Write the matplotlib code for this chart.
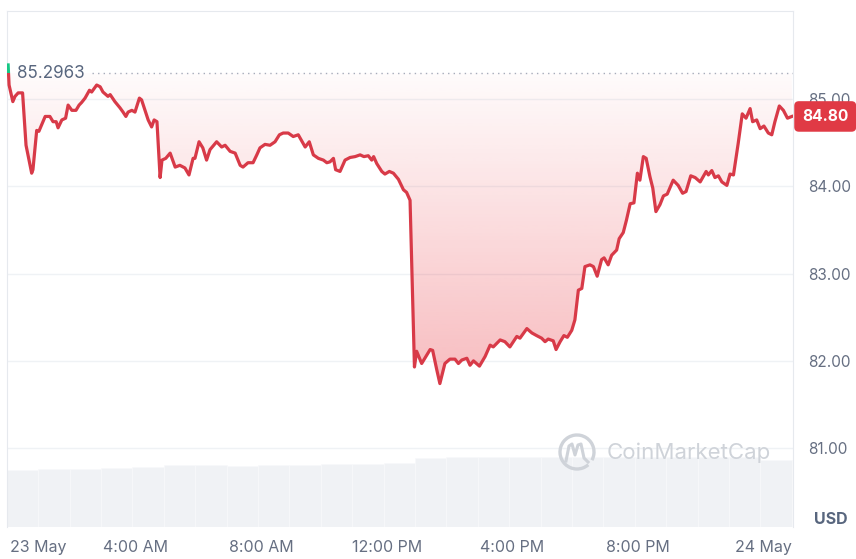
import numpy as np
import matplotlib
matplotlib.use("Agg")
import matplotlib.pyplot as plt
from matplotlib.patches import Rectangle, Arc
from matplotlib.lines import Line2D

plt.rcParams['font.family'] = ['Inter', 'DejaVu Sans']

# price trace, hours since 23 May 00:00
hours = [-0.06, -0.03, 0.09, 0.16, 0.26, 0.40, 0.51, 0.69, 0.73, 0.85,
         0.92, 1.12, 1.27, 1.37, 1.47, 1.53, 1.65, 1.77, 1.85, 1.97,
         2.10, 2.20, 2.28, 2.39, 2.53, 2.60, 2.76, 2.87, 2.96, 3.12,
         3.19, 3.34, 3.50, 3.60, 3.69, 3.76, 3.88, 3.98, 4.12, 4.19,
         4.30, 4.40, 4.51, 4.59, 4.68, 4.78, 4.84, 4.96, 5.10, 5.26,
         5.41, 5.57, 5.70, 5.83, 5.89, 6.02, 6.14, 6.26, 6.37, 6.58,
         6.74, 6.85, 7.01, 7.17, 7.33, 7.42, 7.58, 7.74, 7.86, 7.96,
         8.12, 8.28, 8.44, 8.58, 8.70, 8.86, 9.02, 9.18, 9.40, 9.53,
         9.66, 9.82, 9.98, 10.09, 10.19, 10.30, 10.37, 10.51, 10.67, 10.83,
         10.99, 11.15, 11.27, 11.41, 11.52, 11.58, 11.68, 11.84, 11.94, 12.08,
         12.21, 12.37, 12.53, 12.63, 12.74, 12.88, 12.95, 13.11, 13.38, 13.46,
         13.59, 13.69, 13.85, 14.01, 14.17, 14.28, 14.39, 14.55, 14.65, 14.76,
         14.95, 15.13, 15.29, 15.39, 15.61, 15.76, 15.92, 16.14, 16.24, 16.46,
         16.62, 16.77, 16.93, 17.04, 17.14, 17.30, 17.39, 17.52, 17.64, 17.75,
         17.89, 17.99, 18.10, 18.21, 18.31, 18.47, 18.58, 18.70, 18.84, 18.92,
         19.05, 19.16, 19.32, 19.40, 19.53, 19.63, 19.75, 19.87, 19.98, 20.06,
         20.17, 20.26, 20.38, 20.47, 20.57, 20.70, 20.81, 20.93, 21.12, 21.28,
         21.42, 21.53, 21.68, 21.82, 21.98, 22.17, 22.24, 22.35, 22.45, 22.56,
         22.67, 22.83, 22.93, 23.04, 23.19, 23.32, 23.44, 23.57, 23.65, 23.78,
         23.89, 24.01, 24.15, 24.26, 24.36, 24.50, 24.63, 24.76, 24.90]
price = [85.39, 85.16, 84.97, 85.03, 85.07, 85.07, 84.47, 84.15, 84.19, 84.64,
         84.63, 84.80, 84.80, 84.74, 84.74, 84.67, 84.76, 84.78, 84.93, 84.87,
         84.87, 84.93, 84.96, 85.01, 85.10, 85.08, 85.16, 85.14, 85.08, 85.03,
         85.05, 84.97, 84.90, 84.85, 84.80, 84.85, 84.87, 84.85, 85.01, 84.99,
         84.87, 84.76, 84.68, 84.76, 84.74, 84.10, 84.30, 84.32, 84.38, 84.22,
         84.24, 84.21, 84.13, 84.32, 84.32, 84.51, 84.44, 84.30, 84.42, 84.51,
         84.45, 84.47, 84.40, 84.38, 84.24, 84.22, 84.27, 84.27, 84.36, 84.44,
         84.48, 84.47, 84.51, 84.59, 84.61, 84.61, 84.57, 84.59, 84.45, 84.51,
         84.36, 84.32, 84.30, 84.27, 84.28, 84.32, 84.19, 84.17, 84.30, 84.33,
         84.34, 84.36, 84.34, 84.35, 84.30, 84.34, 84.26, 84.17, 84.14, 84.17,
         84.15, 84.08, 83.96, 83.93, 83.84, 81.93, 82.11, 81.97, 82.13, 82.12,
         81.90, 81.74, 81.97, 82.02, 82.02, 81.97, 82.01, 82.03, 81.95, 82.00,
         81.94, 82.05, 82.18, 82.16, 82.24, 82.22, 82.16, 82.28, 82.26, 82.37,
         82.32, 82.29, 82.26, 82.22, 82.25, 82.23, 82.13, 82.22, 82.29, 82.27,
         82.35, 82.47, 82.81, 82.83, 83.08, 83.10, 83.08, 82.97, 83.16, 83.18,
         83.10, 83.21, 83.27, 83.40, 83.47, 83.61, 83.80, 83.81, 84.15, 84.07,
         84.34, 84.32, 84.11, 83.98, 83.71, 83.79, 83.89, 83.91, 84.07, 84.01,
         83.92, 83.94, 84.12, 84.10, 84.05, 84.17, 84.13, 84.18, 84.10, 84.12,
         84.05, 84.01, 84.14, 84.13, 84.49, 84.83, 84.78, 84.89, 84.74, 84.76,
         84.66, 84.69, 84.61, 84.59, 84.74, 84.92, 84.87, 84.78, 84.80]
baseline = 85.2963
last_price = 84.80

# hourly volume bars (relative units)
vol_hours = list(range(25))
volume = [57, 58, 58, 59, 60, 62, 62, 61, 62, 62, 63, 63, 64,
          69, 70, 70, 70, 70, 70, 70, 70, 70, 70, 70, 67]

tick_hours = [0, 4, 8, 12, 16, 20, 24]
tick_labels = ['23 May', '4:00 AM', '8:00 AM', '12:00 PM', '4:00 PM', '8:00 PM', '24 May']
price_ticks = [81, 82, 83, 84, 85]

red = '#d83a48'
green = '#16c784'
grey = '#666f82'

fig = plt.figure(figsize=(8.56, 5.59), dpi=100)
ax = fig.add_axes([7 / 856, 32 / 559, 786 / 856, 516 / 559])
x0, x1 = -0.096, 24.936
y0, y1 = 80.097, 86.008

# volume behind the price
ax2 = ax.twinx()
ax2.set_zorder(ax.get_zorder() - 1)
ax.patch.set_visible(False)
ax2.bar(np.array(vol_hours) - 0.1, volume, width=1.0, align='edge',
        color='#f0f2f5', edgecolor='#f8f9fb', linewidth=0.5)
ax2.set_ylim(0, 516)
ax2.set_yticks([])
for s in ax2.spines.values():
    s.set_visible(False)

# gradient fill between the line and the baseline
poly = ax.fill_between(hours, price, baseline, facecolor='none', edgecolor='none')
grad = np.zeros((256, 1, 4))
grad[:, 0, 0] = 0xea / 255
grad[:, 0, 1] = 0x39 / 255
grad[:, 0, 2] = 0x43 / 255
grad[:, 0, 3] = np.linspace(0.34, 0.02, 256)
im = ax.imshow(grad, extent=[x0, x1, min(price), baseline], origin='lower',
               aspect='auto', interpolation='bilinear', zorder=1)
im.set_clip_path(poly.get_paths()[0], transform=ax.transData)

# line: green above the baseline, red below
for col, rect in [(green, (x0, baseline, x1 - x0, y1 - baseline)),
                  (red, (x0, y0, x1 - x0, baseline - y0))]:
    ln, = ax.plot(hours, price, color=col, lw=2.3, solid_joinstyle='round', zorder=3)
    clip = Rectangle(rect[:2], rect[2], rect[3], transform=ax.transData)
    ln.set_clip_path(clip)

# baseline marker
ax.plot([0.108, 1.0], [baseline, baseline], transform=ax.get_yaxis_transform(),
        color='#a6acba', lw=1, linestyle=(0, (1, 3)), zorder=2)
ax.text(0.0127, baseline, f'{baseline:.4f}', transform=ax.get_yaxis_transform(),
        ha='left', va='center', fontsize=12.3, color='#58667e')

ax.set_xlim(x0, x1)
ax.set_ylim(y0, y1)

ax.yaxis.tick_right()
ax.set_yticks(price_ticks)
ax.set_yticklabels([f'{v:.2f}' for v in price_ticks])
ax.set_xticks(tick_hours)
ax.set_xticklabels(tick_labels)
ax.xaxis.get_ticklabels()[0].set_ha('left')
ax.tick_params(axis='y', length=0, pad=10.8, labelsize=11, labelcolor=grey)
ax.tick_params(axis='x', length=0, pad=9.5, labelsize=11.5, labelcolor=grey)
ax.grid(axis='y', color='#eff2f5', lw=1)
ax.set_axisbelow(True)
for side in ['top', 'left', 'right']:
    ax.spines[side].set_color('#e6e9ee')
ax.spines['bottom'].set_visible(False)

# current price tag
ax.annotate(f'{last_price:.2f}', xy=(1.0, last_price),
            xycoords=ax.get_yaxis_transform(), xytext=(6.5, 0),
            textcoords='offset points', ha='left', va='center',
            fontsize=11.2, fontweight='bold', color='white', zorder=10,
            annotation_clip=False,
            bbox=dict(boxstyle='round,pad=0.5,rounding_size=0.3', fc='#e03a45', ec='none'))

fig.text(831 / 856, 1 - 520 / 559, 'USD', ha='center', va='center',
         fontsize=11.5, fontweight='bold', color='#58667e')

# watermark
wm = '#cfd3d9'
def fp(x, y):
    return (x / 856, 1 - y / 559)
fig.patches.append(Arc(fp(577, 452), 34 / 856, 34 / 559, theta1=-40, theta2=300,
                       transform=fig.transFigure, color=wm, lw=2.4))
mx = [566, 569, 572, 575, 578, 581, 584, 588]
my = [461, 446, 444, 455, 445, 444, 458, 462]
fig.lines.append(Line2D([v / 856 for v in mx], [1 - v / 559 for v in my],
                        transform=fig.transFigure, color=wm, lw=2.2,
                        solid_joinstyle='round'))
fig.text(607 / 856, 1 - 453 / 559, 'CoinMarketCap', ha='left', va='center',
         fontsize=16, color=wm)

fig.savefig('out.png', dpi=100)
